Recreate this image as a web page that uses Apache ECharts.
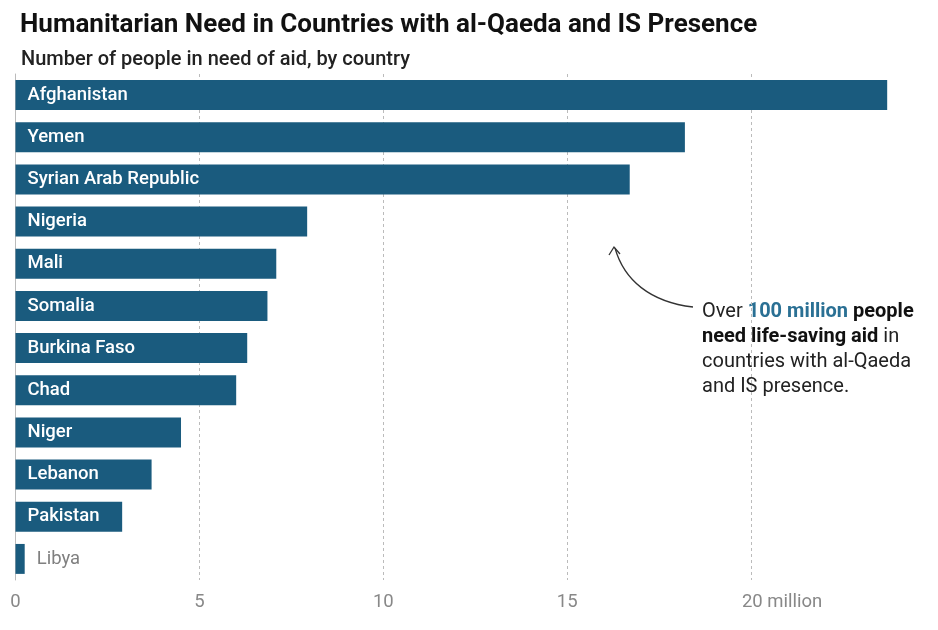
<!DOCTYPE html>
<html>
<head>
<meta charset="utf-8">
<script src="https://cdn.jsdelivr.net/npm/echarts@6/dist/echarts.min.js"></script>
<style>
  html, body { margin: 0; padding: 0; background: #fff; }
  #chart { width: 938px; height: 630px; }
</style>
</head>
<body>
<div id="chart"></div>
<script>
// people in need of aid, millions
var countries = ['Afghanistan', 'Yemen', 'Syrian Arab Republic', 'Nigeria', 'Mali', 'Somalia',
                 'Burkina Faso', 'Chad', 'Niger', 'Lebanon', 'Pakistan', 'Libya'];
var peopleInNeed = [23.7, 18.2, 16.7, 7.93, 7.09, 6.85, 6.3, 6.0, 4.5, 3.7, 2.9, 0.25];
var xTicks = [0, 5, 10, 15, 20];

var barColor = '#1a5b7e';
var font = 'Roboto';

var myChart = echarts.init(document.getElementById('chart'));

var barData = peopleInNeed.map(function (v, i) {
    var item = { value: v };
    // small bars can't hold their label, put it outside
    if (v < 1) {
        item.label = { position: 'right', color: '#808080', fontWeight: 'normal', distance: 12 };
    }
    return item;
});

var option = {
    animation: false,
    textStyle: { fontFamily: font },
    title: [
        {
            text: 'Humanitarian Need in Countries with al-Qaeda and IS Presence',
            left: 15, top: 7,
            textStyle: { fontSize: 26, fontWeight: 'bold', color: '#111', fontFamily: font }
        },
        {
            text: 'Number of people in need of aid, by country',
            left: 16, top: 45,
            textStyle: { fontSize: 20, fontWeight: 500, color: '#222', fontFamily: font }
        }
    ],
    grid: { left: 15.5, top: 74, bottom: 50, width: 922.5, containLabel: false },
    xAxis: {
        type: 'value',
        min: 0, max: 25, interval: 5,
        axisLine: { show: false },
        axisTick: { show: false },
        splitLine: {
            show: true,
            showMaxLine: false,
            lineStyle: { type: [3, 3], color: '#bbb', width: 1 }
        },
        axisLabel: {
            margin: 13,
            fontSize: 18.5,
            color: '#888',
            formatter: function (v) {
                if (xTicks.indexOf(v) < 0) return '';
                if (v === 20) return '{pad| }{n|20}{m| million}';
                return v;
            },
            rich: {
                pad: { width: 62 },
                n: { fontSize: 18.5, color: '#888' },
                m: { fontSize: 18.5, color: '#888' }
            }
        }
    },
    yAxis: {
        type: 'category',
        inverse: true,
        data: countries,
        axisLine: { show: true, lineStyle: { color: '#bbb' } },
        axisTick: { show: false },
        axisLabel: { show: false }
    },
    series: [{
        type: 'bar',
        data: barData,
        barCategoryGap: '29%',
        itemStyle: { color: barColor },
        label: {
            show: true,
            position: 'insideLeft',
            distance: 12,
            formatter: function (p) { return p.name; },
            color: '#fff',
            fontSize: 18.5,
            fontWeight: 500,
            fontFamily: font
        }
    }],
    graphic: [
        {
            type: 'bezierCurve',
            shape: { x1: 693, y1: 307, x2: 615, y2: 248, cpx1: 650, cpy1: 302, cpx2: 624, cpy2: 280 },
            style: { stroke: '#333', lineWidth: 1.3, fill: null }
        },
        {
            type: 'polyline',
            shape: { points: [[609, 255], [614, 247], [620, 254]] },
            style: { stroke: '#333', lineWidth: 1.3, fill: null }
        },
        {
            type: 'text',
            left: 702, top: 302,
            style: {
                text: '{r|Over }{c|100 million}{b| people}\n{b|need life-saving aid}{r| in}\n{r|countries with al-Qaeda}\n{r|and IS presence.}',
                rich: {
                    r: { fontSize: 20, fill: '#222', lineHeight: 25, fontFamily: font },
                    b: { fontSize: 20, fill: '#111', fontWeight: 'bold', lineHeight: 25, fontFamily: font },
                    c: { fontSize: 20, fill: '#2a7094', fontWeight: 'bold', lineHeight: 25, fontFamily: font }
                }
            }
        }
    ]
};

myChart.setOption(option);
</script>
</body>
</html>
